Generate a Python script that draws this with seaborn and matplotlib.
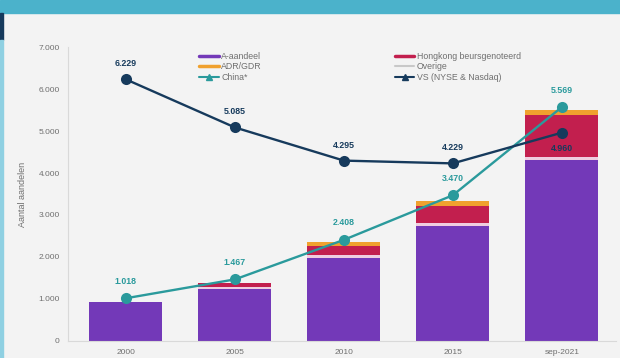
import numpy as np
import pandas as pd
import matplotlib
matplotlib.use("Agg")
import matplotlib.pyplot as plt
from matplotlib.patches import Rectangle
from matplotlib.lines import Line2D
import seaborn as sns

# Aantal beursgenoteerde Chinese aandelen per markt
years = ["2000", "2005", "2010", "2015", "sep-2021"]
a_aandeel = [925, 1240, 1975, 2740, 4320]
overige = [10, 50, 70, 80, 70]
hongkong = [0, 85, 215, 400, 990]
adr_gdr = [0, 15, 100, 110, 120]
china_totaal = [1018, 1467, 2408, 3470, 5569]
vs_nyse_nasdaq = [6229, 5085, 4295, 4229, 4960]
y_ticks = [0, 1000, 2000, 3000, 4000, 5000, 6000, 7000]

c_purple = "#7339b8"
c_pink = "#efcde0"
c_red = "#c21f4e"
c_orange = "#f0a12e"
c_teal = "#2a9a9c"
c_navy = "#163a5c"
c_bg = "#f3f3f3"
c_text = "#6f6f6f"


def nl(v):
    return f"{int(v):,}".replace(",", ".")


sns.set_theme(style="white")
plt.rcParams["font.family"] = ["Liberation Sans", "DejaVu Sans"]

fig = plt.figure(figsize=(6.2, 3.58), dpi=100, facecolor=c_bg)
ax = fig.add_axes([0.110, 0.0475, 0.884, 0.8212])
ax.set_facecolor(c_bg)

df = pd.DataFrame({"jaar": years, "A": a_aandeel, "O": overige,
                   "H": hongkong, "R": adr_gdr})
layers = [("A", c_purple), ("O", c_pink), ("H", c_red), ("R", c_orange)]
cum = np.cumsum(np.array([df[k].values for k, _ in layers]), axis=0)
# stacked bars: draw cumulative totals from the top layer downward
for i in range(len(layers) - 1, -1, -1):
    sns.barplot(x=df["jaar"], y=cum[i], color=layers[i][1], width=0.67,
                saturation=1, ax=ax, edgecolor="none", linewidth=0)

pos = np.arange(len(years))
sns.lineplot(x=pos, y=china_totaal, color=c_teal, lw=1.7, marker="o",
             markersize=8, markeredgewidth=0, ax=ax, zorder=5)
sns.lineplot(x=pos, y=vs_nyse_nasdaq, color=c_navy, lw=1.7, marker="o",
             markersize=8, markeredgewidth=0, ax=ax, zorder=6)

for i, v in enumerate(china_totaal):
    ax.annotate(nl(v), (i, v), xytext=(0, 9), textcoords="offset points",
                ha="center", va="bottom", fontsize=6.3, color=c_teal,
                fontweight="bold")
for i, v in enumerate(vs_nyse_nasdaq):
    below = i == len(vs_nyse_nasdaq) - 1
    ax.annotate(nl(v), (i, v), xytext=(0, -8 if below else 8),
                textcoords="offset points", ha="center",
                va="top" if below else "bottom", fontsize=6.3,
                color=c_navy, fontweight="bold")

ax.set_xlim(-0.53, 4.5)
ax.set_ylim(0, 7000)
ax.set_yticks(y_ticks)
ax.set_yticklabels([nl(t) for t in y_ticks])
ax.set_xlabel("")
ax.set_ylabel("Aantal aandelen", fontsize=6.5, color=c_text, labelpad=8)
ax.tick_params(axis="both", labelsize=6, colors=c_text, length=0, pad=6)
for s in ["top", "right"]:
    ax.spines[s].set_visible(False)
for s in ["left", "bottom"]:
    ax.spines[s].set_color("#d9d9d9")
    ax.spines[s].set_linewidth(0.8)

handles = [
    Line2D([], [], color=c_purple, lw=2.5),
    Line2D([], [], color=c_orange, lw=2.5),
    Line2D([], [], color=c_teal, lw=1.5, marker="^", markersize=4),
    Line2D([], [], color=c_red, lw=2.5),
    Line2D([], [], color="#c8c8c8", lw=1.5),
    Line2D([], [], color=c_navy, lw=1.5, marker="^", markersize=4),
]
labels = ["A-aandeel", "ADR/GDR", "China*", "Hongkong beursgenoteerd",
          "Overige", "VS (NYSE & Nasdaq)"]
leg = ax.legend(handles, labels, ncol=2, loc="upper left",
                bbox_to_anchor=(0.225, 1.01), frameon=False, fontsize=6.3,
                handlelength=2.2, handletextpad=0.3, columnspacing=15.2,
                labelspacing=0.15, labelcolor=c_text)

# page decoration: coloured header band and left edge
fig.patches.append(Rectangle((0, 1 - 13 / 358), 1, 13 / 358,
                             transform=fig.transFigure, color="#4bb2cb",
                             zorder=0))
fig.patches.append(Rectangle((0, 1 - 40 / 358), 3 / 620, 27 / 358,
                             transform=fig.transFigure, color=c_navy,
                             zorder=0))
fig.patches.append(Rectangle((0, 0), 2.5 / 620, 1 - 40 / 358,
                             transform=fig.transFigure, color="#8fd0e2",
                             zorder=0))

fig.savefig("out.png", dpi=100, facecolor=c_bg)
